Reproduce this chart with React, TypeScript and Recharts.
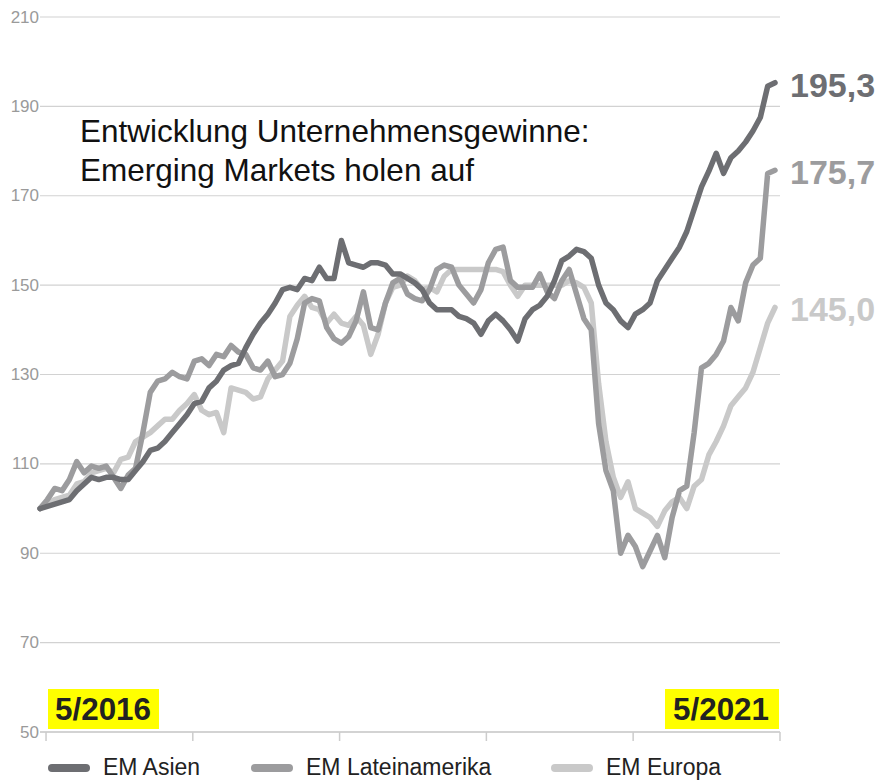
import React from 'react';
import { LineChart, Line, XAxis, YAxis, CartesianGrid, LabelList } from 'recharts';

const asien = [
  100, 100.5, 101, 101.5, 102, 104, 105.5, 107, 106.5, 107,
  107, 106.5, 106.5, 108.5, 110.5, 113, 113.5, 115, 117, 119,
  121, 123.5, 124, 127, 128.5, 131, 132, 132.5, 136, 139,
  141.5, 143.5, 146, 149, 149.5, 149, 151.5, 151, 154, 151.5,
  151.5, 160, 155, 154.5, 154, 155, 155, 154.5, 152.5, 152.5,
  151.5, 150.5, 149, 146, 144.5, 144.5, 144.5, 143, 142.5, 141.5,
  139, 142, 143.5, 142, 140, 137.5, 142.5, 144.5, 145.5, 147.5,
  151, 155.5, 156.5, 158, 157.5, 156, 150, 146, 144.5, 142,
  140.5, 143.5, 144.5, 146, 151, 153.5, 156, 158.5, 162, 167,
  172, 175.5, 179.5, 175, 178.5, 180, 182, 184.5, 187.5, 194.5,
  195.3,
];

const lateinamerika = [
  100, 102, 104.5, 104, 106.5, 110.5, 108, 109.5, 109, 109.5,
  107, 104.5, 107.5, 109, 117, 126, 128.5, 129, 130.5, 129.5,
  129, 133, 133.5, 132, 134.5, 134, 136.5, 135, 134.5, 131.5,
  131, 133, 129.5, 130, 132.5, 138, 146, 147, 146.5, 140.5,
  138, 137, 138.5, 142, 148.5, 140.5, 140, 146, 150.5, 151.5,
  148, 147, 146.5, 149, 153.5, 154.5, 154, 150, 148, 146,
  149, 155, 158, 158.5, 151, 149.5, 149.5, 149.5, 152.5, 148.5,
  147, 151, 153.5, 148, 142.5, 140, 119, 108.5, 104, 90,
  94, 91.5, 87, 90.5, 94, 89, 98, 104, 105, 117,
  131.5, 132.5, 134.5, 137.5, 145, 142, 150.5, 154.5, 156, 175,
  175.7,
];

const europa = [
  100, 101, 102, 102.5, 103, 105.5, 106, 108, 108.5, 109,
  108, 111, 111.5, 115, 116, 117, 118.5, 120, 120, 122,
  123.5, 125.5, 122, 121, 121.5, 117, 127, 126.5, 126, 124.5,
  125, 129, 131, 133, 143, 145.5, 147.5, 145, 144.5, 141.5,
  143.5, 141.5, 141, 143, 141, 134.5, 139, 146, 149.5, 150,
  152, 151, 149, 149.5, 148.5, 152, 153.5, 153.5, 153.5, 153.5,
  153.5, 153.5, 153.5, 153, 150, 147.5, 150, 150, 150, 150,
  150, 150, 151, 150.5, 149.5, 146, 128, 115, 107, 102.5,
  106, 100, 99, 98, 96, 99.5, 101.5, 102.5, 100, 105,
  106.5, 112, 115, 118.5, 123, 125, 127, 130.5, 136, 141.5,
  145,
];

const yTicks = [50, 70, 90, 110, 130, 150, 170, 190, 210];
// Jahresmarken 5/2016 ... 5/2021 auf der Index-Achse
const yearTicks = [0.82, 20.79, 40.76, 60.73, 80.7, 100.68];

const series = [
  { key: 'europa', name: 'EM Europa', color: '#c9c9c9' },
  { key: 'latein', name: 'EM Lateinamerika', color: '#9c9c9e' },
  { key: 'asien', name: 'EM Asien', color: '#6d6e72' },
];

const legendItems = [
  { name: 'EM Asien', color: '#6d6e72', x: 48 },
  { name: 'EM Lateinamerika', color: '#9c9c9e', x: 251 },
  { name: 'EM Europa', color: '#c9c9c9', x: 551 },
];

const data = asien.map((v, i) => ({
  i,
  asien: v,
  latein: lateinamerika[i],
  europa: europa[i],
}));

const font = '"Liberation Sans", Arial, Helvetica, sans-serif';

const YTick = ({ x, y, payload }) => (
  <text x={x + 1} y={y} textAnchor="end" dominantBaseline="central" fill="#9a9a9a" fontSize={17} fontFamily={font}>
    {payload.value}
  </text>
);

const endLabel = color => props => {
  const { x, y, value, index } = props;
  if (index !== data.length - 1) return null;
  return (
    <text x={x + 15} y={y + 2} dominantBaseline="central" fill={color} fontSize={34} fontWeight="bold" fontFamily={font}>
      {Number(value).toFixed(1).replace('.', ',')}
    </text>
  );
};

export default function App() {
  return (
    <div style={{ position: 'absolute', left: 0, top: 0, width: 881, height: 782, background: '#fff', fontFamily: font }}>
      <LineChart width={881} height={782} data={data} margin={{ top: 17, right: 101, bottom: 38, left: 0 }}>
        <CartesianGrid vertical={false} stroke="#d2d2d2" strokeWidth={1.2} />
        <XAxis
          dataKey="i"
          type="number"
          domain={[0, 100.68]}
          ticks={yearTicks}
          tickFormatter={() => ''}
          height={12}
          tickSize={9}
          stroke="#cccccc"
          strokeWidth={1.5}
        />
        <YAxis
          domain={[50, 210]}
          ticks={yTicks}
          width={40}
          axisLine={false}
          tickLine={false}
          tickSize={0}
          tick={YTick}
        />
        {series.map(s => (
          <Line
            key={s.key}
            dataKey={s.key}
            name={s.name}
            type="linear"
            stroke={s.color}
            strokeWidth={5.5}
            strokeLinejoin="round"
            strokeLinecap="round"
            dot={false}
            isAnimationActive={false}
          >
            <LabelList dataKey={s.key} content={endLabel(s.color)} />
          </Line>
        ))}
      </LineChart>

      <div style={{ position: 'absolute', left: 80, top: 112, fontSize: 31.5, lineHeight: '39px', color: '#111' }}>
        Entwicklung Unternehmensgewinne:
        <br />
        Emerging Markets holen auf
      </div>

      <svg style={{ position: 'absolute', left: 0, top: 0 }} width={881} height={782}>
        <rect x={48} y={689} width={111} height={40} fill="#ffff00" />
        <text x={55} y={720} fontSize={32} fontWeight="bold" fill="#222" fontFamily={font} textLength={96} lengthAdjust="spacingAndGlyphs">
          5/2016
        </text>
        <rect x={665} y={689} width={114} height={40} fill="#ffff00" />
        <text x={673} y={720} fontSize={32} fontWeight="bold" fill="#222" fontFamily={font} textLength={96} lengthAdjust="spacingAndGlyphs">
          5/2021
        </text>
        {legendItems.map(l => (
          <g key={l.name}>
            <line x1={l.x + 4} y1={768} x2={l.x + 38} y2={768} stroke={l.color} strokeWidth={8} strokeLinecap="round" />
            <text x={l.x + 55} y={775} fontSize={23} fill="#222" fontFamily={font}>
              {l.name}
            </text>
          </g>
        ))}
      </svg>
    </div>
  );
}
